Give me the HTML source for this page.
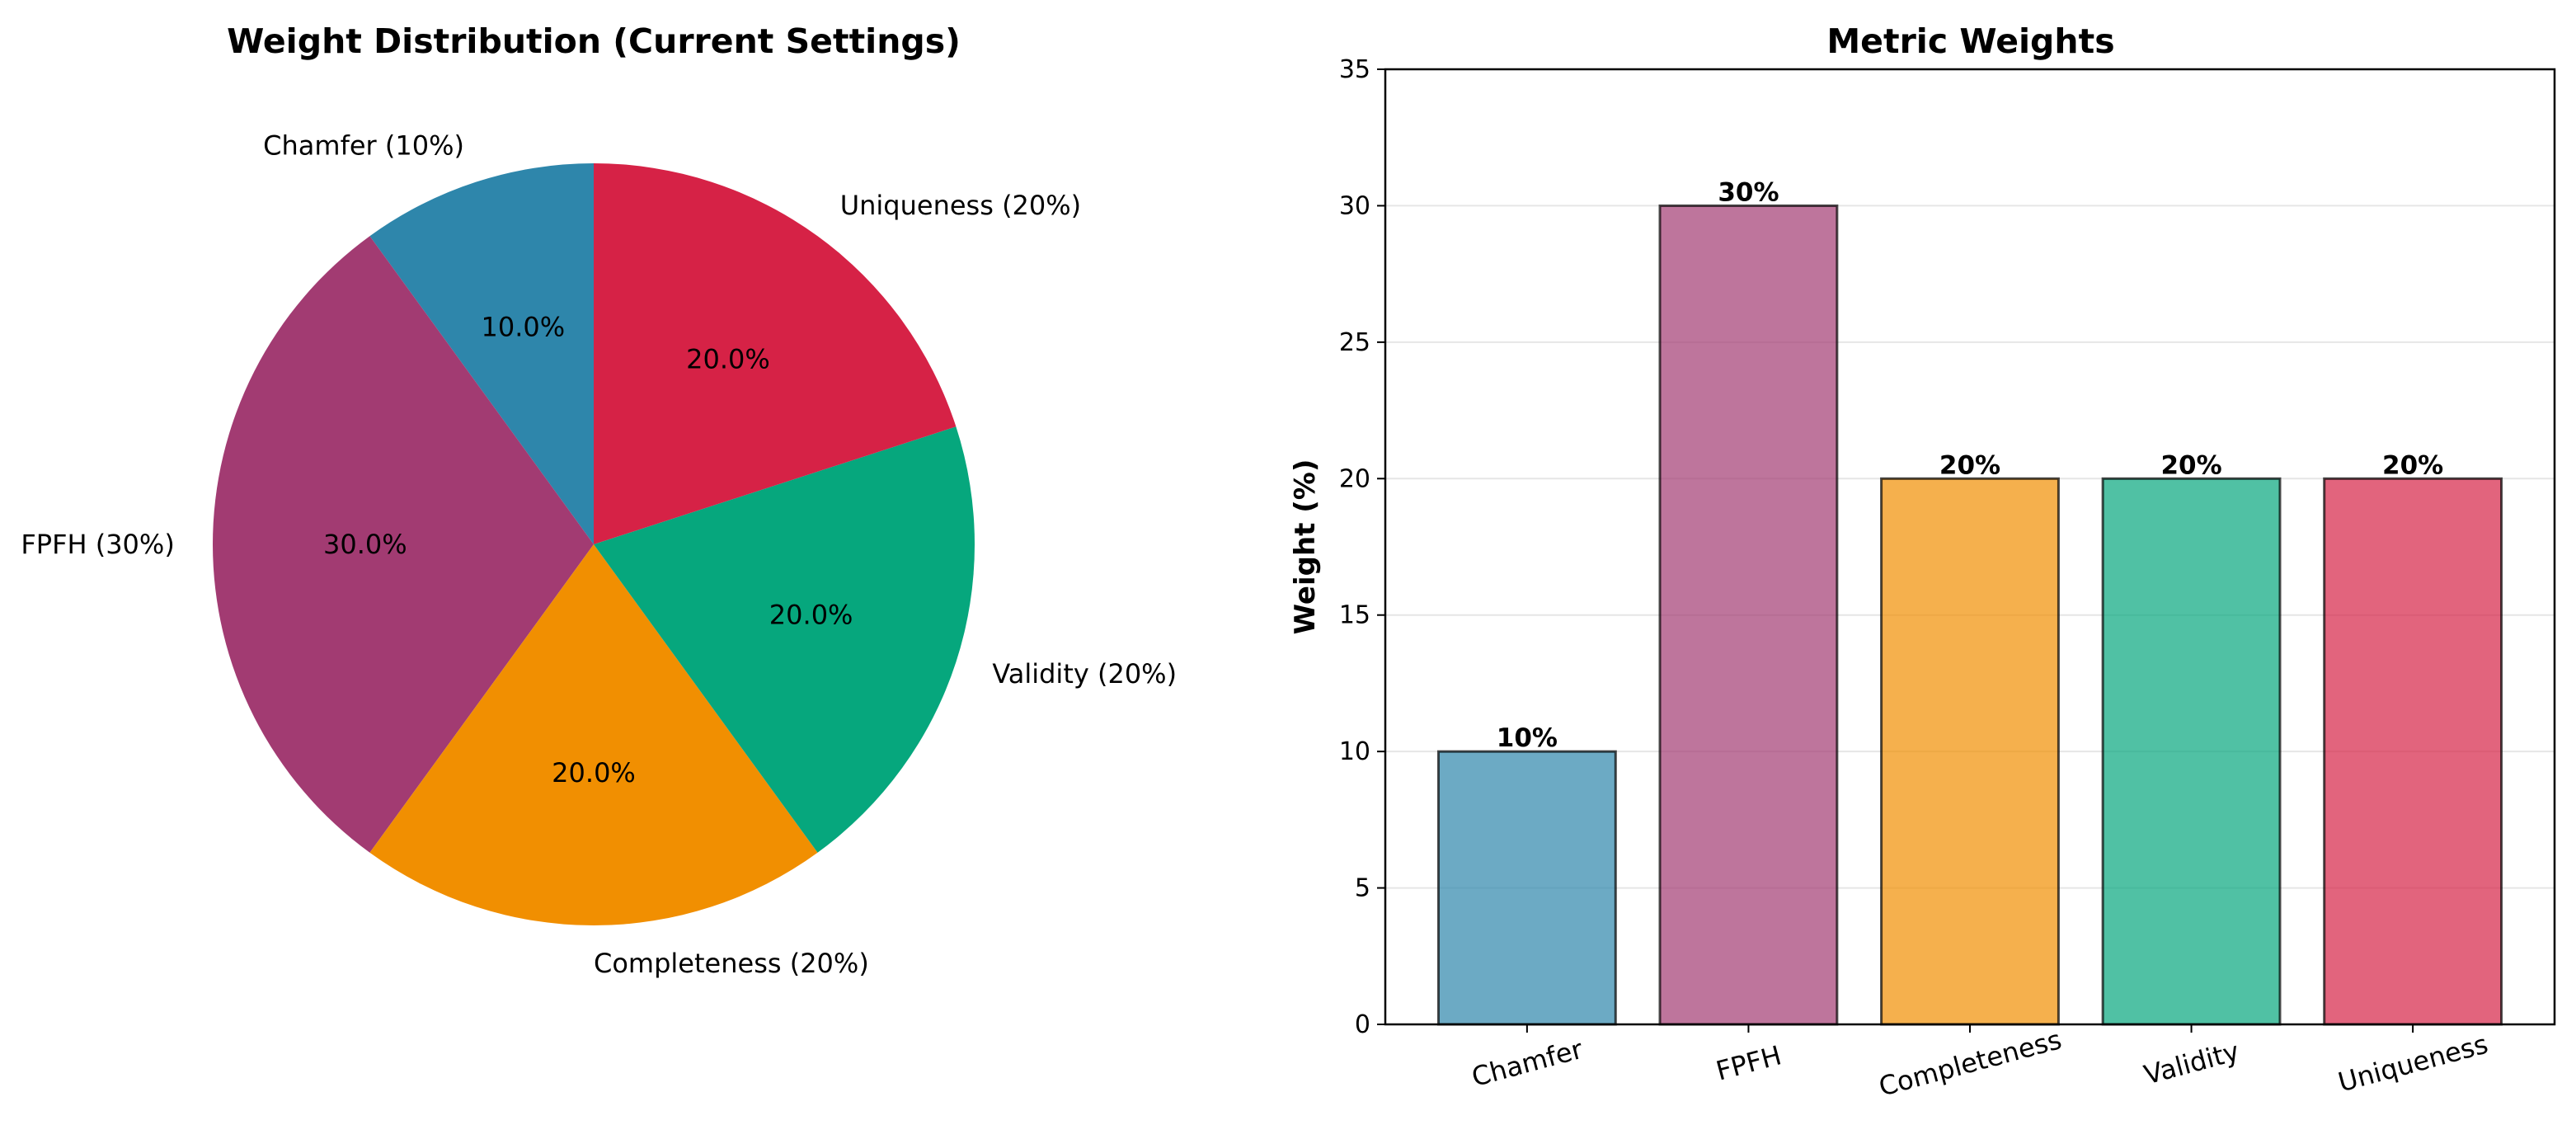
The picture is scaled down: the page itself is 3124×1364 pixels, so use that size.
<!DOCTYPE html>
<html><head><meta charset="utf-8"><style>
html,body{margin:0;padding:0;background:#fff;}
svg{display:block;font-family:"DejaVu Sans","Liberation Sans",sans-serif;}
</style></head><body>
<svg id="fig" width="3124" height="1364" viewBox="0 0 3124 1364" xmlns="http://www.w3.org/2000/svg">
<rect width="3124" height="1364" fill="#fff"/>
<text x="720" y="64" font-size="41" font-weight="bold" text-anchor="middle">Weight Distribution (Current Settings)</text>
<g id="pie"></g>
<text x="2390" y="64" font-size="41" font-weight="bold" text-anchor="middle">Metric Weights</text>
<g id="bars"></g>
</svg>
<script>
const categories = ["Chamfer", "FPFH", "Completeness", "Validity", "Uniqueness"];
const weights = [10, 30, 20, 20, 20];
const yTicks = [0, 5, 10, 15, 20, 25, 30, 35];
const colors = ["#2E86AB", "#A23B72", "#F18F01", "#06A77D", "#D62246"];

const NS = "http://www.w3.org/2000/svg";
function mk(tag, attrs, parent, txt) {
  const e = document.createElementNS(NS, tag);
  for (const k in attrs) e.setAttribute(k, attrs[k]);
  if (txt !== undefined) e.textContent = txt;
  parent.appendChild(e);
  return e;
}

// PIE
const pie = document.getElementById("pie");
const cx = 720, cy = 660, R = 462;
const total = weights.reduce((a, b) => a + b, 0);
let ang = 90;
weights.forEach((w, i) => {
  const sweep = w / total * 360;
  const a0 = ang * Math.PI / 180, a1 = (ang + sweep) * Math.PI / 180;
  const x0 = cx + R * Math.cos(a0), y0 = cy - R * Math.sin(a0);
  const x1 = cx + R * Math.cos(a1), y1 = cy - R * Math.sin(a1);
  const large = sweep > 180 ? 1 : 0;
  const p = mk("path", {d: `M${cx},${cy} L${x0},${y0} A${R},${R} 0 ${large} 0 ${x1},${y1} Z`, fill: colors[i]}, pie);
  
  
  const mid = (ang + sweep / 2) * Math.PI / 180;
  const px = cx + 0.6 * R * Math.cos(mid), py = cy - 0.6 * R * Math.sin(mid);
  const t = mk("text", {x: px, y: py + 11, "font-size": 32, "text-anchor": "middle"}, pie, (w / total * 100).toFixed(1) + "%");
  
  
  const lx = cx + 1.1 * R * Math.cos(mid), ly = cy - 1.1 * R * Math.sin(mid);
  const c = Math.cos(mid);
  const anchor = c < -1e-6 ? "end" : "start";
  const l = mk("text", {x: lx, y: ly + 11, "font-size": 32, "text-anchor": anchor}, pie, categories[i] + " (" + w + "%)");
  
  
  ang += sweep;
});

// BARS
const g = document.getElementById("bars");
const L = 1680, Rr = 3098, T = 84, B = 1242;
const xmin = -0.64, xmax = categories.length - 1 + 0.64;
const ymax = 35;
const xs = v => L + (v - xmin) / (xmax - xmin) * (Rr - L);
const ys = v => B - v / ymax * (B - T);
yTicks.forEach(v => {
  const y = ys(v);
  if (v > 0 && v < ymax) {
    const gl = mk("line", {x1: L, x2: Rr, y1: y, y2: y, stroke: "#e6e6e6", "stroke-width": 2}, g);
    
    
  }
  const tk = mk("line", {x1: L - 10, x2: L, y1: y, y2: y, stroke: "#000", "stroke-width": 2}, g);
  
  
  const tl = mk("text", {x: L - 18, y: y + 10, "font-size": 30, "text-anchor": "end"}, g, v);
  
  
});
const bw = 0.8 * (xs(1) - xs(0));
weights.forEach((w, i) => {
  const xc = xs(i);
  const r = mk("rect", {x: xc - bw / 2, y: ys(w), width: bw, height: ys(0) - ys(w), fill: colors[i], "fill-opacity": 0.7, stroke: "#000", "stroke-opacity": 0.7, "stroke-width": 3}, g);
  
  
  const vt = mk("text", {x: xc, y: ys(w) - 6, "font-size": 31, "font-weight": "bold", "text-anchor": "middle"}, g, w + "%");
  
  
  const tk = mk("line", {x1: xc, x2: xc, y1: B, y2: B + 10, stroke: "#000", "stroke-width": 2}, g);
  
  
  const xl = mk("text", {x: xc, y: B + 58, "font-size": 32, "text-anchor": "middle", transform: `rotate(-15 ${xc} ${B + 46})`}, g, categories[i]);
  
  
});
const ax = mk("rect", {x: L, y: T, width: Rr - L, height: B - T, fill: "none", stroke: "#000", "stroke-width": 2.5}, g);


const yl = mk("text", {x: 0, y: 0, "font-size": 34, "font-weight": "bold", "text-anchor": "middle", transform: `translate(1594 ${(T + B) / 2}) rotate(-90)`}, g, "Weight (%)");


</script>
</body></html>
